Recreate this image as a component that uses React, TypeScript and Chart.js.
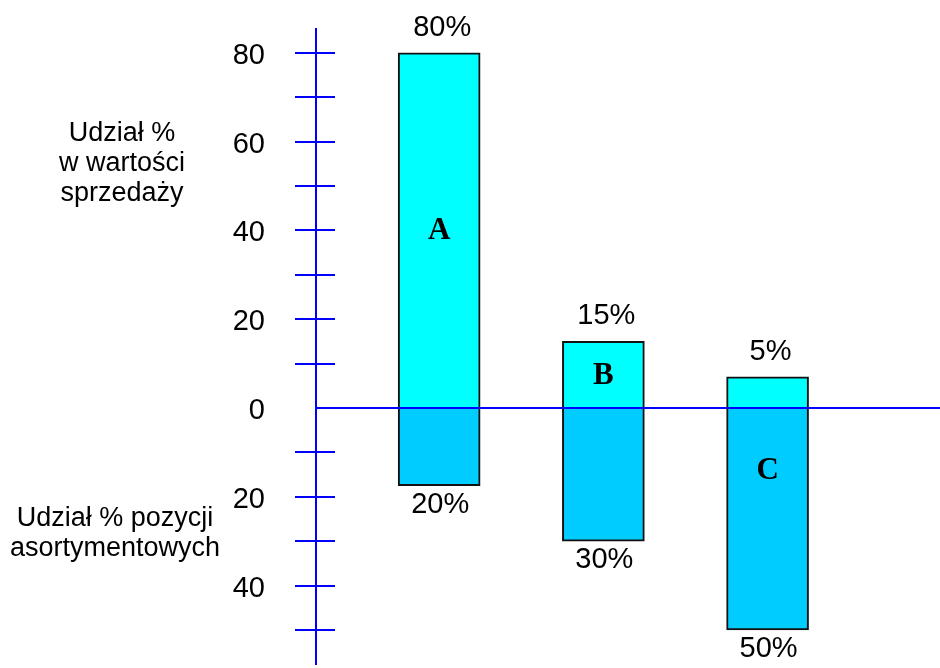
import { useEffect, useRef } from 'react';
import { Chart, registerables } from 'chart.js';

Chart.register(...registerables);

const categories = ['A', 'B', 'C'];
const salesShare = [80, 15, 7];
const itemShare = [-17.5, -30, -50];
const salesLabels = ['80%', '15%', '5%'];
const itemLabels = ['20%', '30%', '50%'];
const letterAnchor = [40, 7.5, -14];
const tickValues = [80, 70, 60, 50, 40, 30, 20, 10, -10, -20, -30, -40, -50];
const tickLabelValues = [80, 60, 40, 20, 0, -20, -40];
const tickLabels = ['80', '60', '40', '20', '0', '20', '40'];
const upperTitle = ['Udział %', 'w wartości', 'sprzedaży'];
const lowerTitle = ['Udział % pozycji', 'asortymentowych'];

const BLUE = '#0000FF';
const SANS = '"Liberation Sans", Arial, sans-serif';
const SERIF = '"Liberation Serif", "Times New Roman", serif';

const decorPlugin = {
  id: 'decor',
  afterDatasetsDraw(chart: any) {
    const { ctx, chartArea, scales } = chart;
    const x = scales.x;
    const y = scales.y;
    const axisX = chartArea.left;
    ctx.save();

    // vertical axis
    ctx.strokeStyle = BLUE;
    ctx.lineWidth = 2;
    ctx.beginPath();
    ctx.moveTo(axisX, chartArea.top);
    ctx.lineTo(axisX, chartArea.bottom);
    ctx.stroke();

    // tick marks crossing the axis
    tickValues.forEach((v) => {
      const py = Math.round(y.getPixelForValue(v));
      ctx.beginPath();
      ctx.moveTo(axisX - 21, py);
      ctx.lineTo(axisX + 19, py);
      ctx.stroke();
    });

    // zero line
    const zeroY = Math.round(y.getPixelForValue(0));
    ctx.beginPath();
    ctx.moveTo(axisX, zeroY);
    ctx.lineTo(chart.width, zeroY);
    ctx.stroke();

    // tick labels
    ctx.fillStyle = '#000';
    ctx.font = `29px ${SANS}`;
    ctx.textAlign = 'right';
    ctx.textBaseline = 'middle';
    tickLabelValues.forEach((v, i) => {
      ctx.fillText(tickLabels[i], axisX - 51, y.getPixelForValue(v) + 3);
    });

    // value labels
    ctx.textAlign = 'center';
    categories.forEach((_, i) => {
      const cx = x.getPixelForValue(i);
      ctx.fillText(salesLabels[i], cx + 3, y.getPixelForValue(salesShare[i]) - 25);
      ctx.fillText(itemLabels[i], cx + 1, y.getPixelForValue(itemShare[i]) + 19);
    });

    // category letters
    ctx.font = `bold 31px ${SERIF}`;
    categories.forEach((c, i) => {
      ctx.fillText(c, x.getPixelForValue(i), y.getPixelForValue(letterAnchor[i]) + 1);
    });

    // axis titles
    ctx.font = `27px ${SANS}`;
    upperTitle.forEach((t, i) => {
      ctx.fillText(t, 122, 134 + i * 30);
    });
    lowerTitle.forEach((t, i) => {
      ctx.fillText(t, 115, 519 + i * 30);
    });

    ctx.restore();
  },
};

export default function App() {
  const ref = useRef<HTMLCanvasElement | null>(null);

  useEffect(() => {
    if (!ref.current) return;
    const chart = new Chart(ref.current, {
      type: 'bar',
      data: {
        datasets: [
          {
            label: 'Udział % w wartości sprzedaży',
            data: salesShare.map((v, i) => ({ x: i, y: v })),
            backgroundColor: '#00FFFF',
            borderColor: '#111',
            borderWidth: 2,
            barThickness: 82,
          },
          {
            label: 'Udział % pozycji asortymentowych',
            data: itemShare.map((v, i) => ({ x: i, y: v })),
            backgroundColor: '#00CCFF',
            borderColor: '#111',
            borderWidth: 2,
            barThickness: 82,
          },
        ],
      },
      options: {
        responsive: false,
        animation: false,
        layout: { padding: { left: 316, right: 0, top: 28, bottom: 3 } },
        scales: {
          x: { type: 'linear', min: -0.75, max: 3.05, offset: false, display: false, stacked: true },
          y: { min: -57.9, max: 85.6, display: false, stacked: true },
        },
        plugins: {
          legend: { display: false },
          tooltip: { enabled: false },
        },
      },
      plugins: [decorPlugin],
    } as any);
    return () => chart.destroy();
  }, []);

  return (
    <div style={{ position: 'fixed', left: 0, top: 0, width: 940, height: 668, background: '#fff' }}>
      <canvas ref={ref} width={940} height={668} style={{ width: 940, height: 668, display: 'block' }} />
    </div>
  );
}
